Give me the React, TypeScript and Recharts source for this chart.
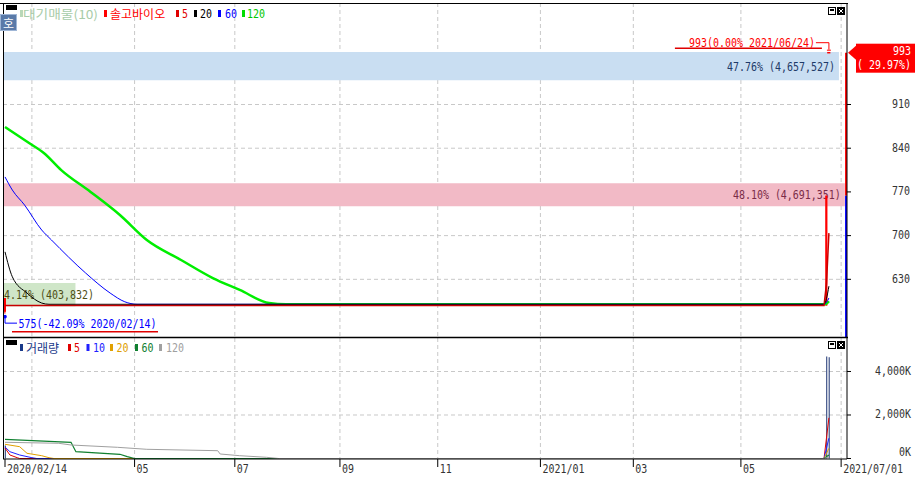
import React from "react";
import {
  ComposedChart,
  Line,
  Bar,
  Scatter,
  XAxis,
  YAxis,
  CartesianGrid,
  ReferenceArea,
  ReferenceLine,
} from "recharts";

const MONO = "'DejaVu Sans Mono', 'Liberation Mono', monospace";
const KR = "'Noto Sans CJK KR', 'Noto Sans', sans-serif";

// x = trading-day index, 0 = 2020/02/14
const tickIdx = [0, 53, 94, 137, 177, 219, 257, 301, 342];
const tickLabels = ["2020/02/14", "05", "07", "09", "11", "2021/01", "03", "05", "2021/07/01"];
const gridIdx = [11, 53, 94, 137, 177, 219, 257, 301, 342];
const X_MIN = -0.82;
const X_MAX = 344.4;

const priceTicks = [630, 700, 770, 840, 910];
const volTicks = [0, 2000000, 4000000];

// candles
const candleIdx = [0, 336, 337];
const candleOpen = [578, 588, 993];
const candleHigh = [600, 764, 993];
const candleLow = [575, 588, 993];
const candleClose = [600, 764, 993];
const volume = [600000, 4691351, 4657527];

// price moving averages
const ma5Idx = [0, 335, 336, 337];
const ma5 = [588, 588, 623, 704];
const ma20Idx = [0, 3, 9, 15, 18, 335, 336, 337];
const ma20 = [674, 634, 608, 592, 590, 590, 599, 619];
const ma60Idx = [0, 3, 8, 15, 19, 33, 43, 49, 54, 335, 336, 337];
const ma60 = [794, 773, 749, 709, 693, 640, 608, 594, 590, 590, 593, 600];
const ma120Idx = [0, 10, 16, 23, 35, 47, 58, 72, 85, 96, 108, 115, 335, 336, 337];
const ma120 = [874, 848, 832, 805, 770, 733, 693, 661, 632, 613, 592, 590, 590, 591, 595];

// volume moving averages
const vol5Idx = [0, 2, 5, 6, 335, 336, 337];
const vol5 = [483000, 161000, 37000, 0, 0, 938000, 1870000];
const vol10Idx = [0, 2, 6, 11, 13, 335, 336, 337];
const vol10 = [529000, 313000, 161000, 37000, 0, 0, 469000, 935000];
const vol20Idx = [0, 6, 9, 15, 18, 20, 335, 336, 337];
const vol20 = [653000, 543000, 239000, 129000, 37000, 0, 0, 235000, 467000];
const vol60Idx = [0, 27, 29, 47, 50, 53, 335, 336, 337];
const vol60 = [883000, 745000, 313000, 193000, 83000, 0, 0, 78000, 156000];
const vol120Idx = [0, 22, 27, 46, 58, 87, 88, 96, 107, 112, 335, 336, 337];
const vol120 = [745000, 699000, 621000, 515000, 423000, 359000, 207000, 129000, 55000, 0, 0, 39000, 78000];

// waiting supply bands (대기매물)
const bandLow = [587, 747, 949];
const bandHigh = [624, 784, 994];
const bandPct = [4.14, 48.1, 47.76];
const bandVol = [403832, 4691351, 4657527];
const bandFill = ["#cfe6c8", "#f2bac6", "#c9def2"];
const bandText = ["#4e4e14", "#7a2c48", "#1e3a68"];

// annotations
const highIdx = 337;
const highPrice = 993;
const highLabel = "993(0.00% 2021/06/24)";
const lowIdx = 0;
const lowPrice = 575;
const lowLabel = "575(-42.09% 2020/02/14)";
const lastPrice = 993;
const prevClose = 764;
const lastChange = "( 29.97%)";

const PRICE_MIN = 537.6;
const PRICE_MAX = 1072.6;

const toPts = (xs: number[], ys: number[]) => xs.map((d, i) => ({ d, v: ys[i] }));

const candles = candleIdx.map((d, i) => ({
  d,
  range: [candleLow[i], candleHigh[i]],
  open: candleOpen[i],
  close: candleClose[i],
  high: candleHigh[i],
  low: candleLow[i],
  vol: volume[i],
}));

function Mono({ x, y, text, fill, anchor = "start", size = 13 }: any) {
  return (
    <text
      x={x}
      y={y}
      fill={fill}
      fontFamily={MONO}
      fontSize={size}
      textAnchor={anchor}
      dominantBaseline="central"
      textLength={text.length * 6}
      lengthAdjust="spacingAndGlyphs"
    >
      {text}
    </text>
  );
}

function Candle(props: any) {
  const { x, y, width, height, payload } = props;
  const { open, close, high, low } = payload;
  const color = close >= open ? "#ff0000" : "#0000ff";
  if (!height || high === low) {
    return <rect x={x - 0.5} y={y - 0.75} width={width + 1} height={1.5} fill={color} />;
  }
  const py = (p: number) => y + ((high - p) / (high - low)) * height;
  const top = py(Math.max(open, close));
  const bot = py(Math.min(open, close));
  return (
    <g>
      <line x1={x + width / 2} x2={x + width / 2} y1={y} y2={y + height} stroke={color} />
      <rect x={x} y={top} width={width} height={Math.max(1, bot - top)} fill={color} />
    </g>
  );
}

function Annotation(props: any) {
  const { cx, cy, payload } = props;
  if (cx == null || cy == null) return null;
  if (payload.kind === "hi") {
    return (
      <g>
        <line x1={cx - 154} x2={cx - 7} y1={cy - 4.5} y2={cy - 4.5} stroke="#e00000" strokeWidth={1.5} />
        <Mono x={cx - 14} y={cy - 10} text={payload.label} fill="#ff0000" anchor="end" />
        <polyline
          points={`${cx - 13},${cy - 10} ${cx},${cy - 10} ${cx},${cy - 3}`}
          fill="none"
          stroke="#ff0000"
        />
        <line x1={cx - 2} x2={cx + 2} y1={cy - 2.5} y2={cy - 2.5} stroke="#ff0000" />
      </g>
    );
  }
  return (
    <g>
      <line x1={cx + 7} x2={cx + 153} y1={cy + 18} y2={cy + 18} stroke="#e00000" strokeWidth={1.5} />
      <polyline
        points={`${cx},${cy + 3} ${cx},${cy + 9.5} ${cx + 12},${cy + 9.5}`}
        fill="none"
        stroke="#0000ff"
      />
      <circle cx={cx} cy={cy + 3} r={1.8} fill="#0000ff" />
      <Mono x={cx + 13.5} y={cy + 9.5} text={payload.label} fill="#0000ff" />
    </g>
  );
}

function PriceBox(props: any) {
  const { x, y, width } = props.viewBox;
  const r = x + width;
  return (
    <g>
      <polygon points={`${r + 1},${y} ${r + 9},${y - 7} ${r + 9},${y + 7}`} fill="#ff0000" />
      <rect x={r + 9} y={y - 9} width={915 - r - 9} height={29} fill="#ff0000" />
      <Mono x={911} y={y - 2} text={String(lastPrice)} fill="#ffffff" anchor="end" size={12} />
      <Mono x={911} y={y + 12.5} text={lastChange} fill="#ffffff" anchor="end" size={12} />
    </g>
  );
}

const bandLabel = (text: string, color: string) => (props: any) => {
  const { x, y, width, height } = props.viewBox;
  const tw = text.length * 6;
  const fits = width > tw + 10;
  return (
    <Mono
      x={fits ? x + width - 4 : x + 1}
      y={y + height / 2}
      text={text}
      fill={color}
      anchor={fits ? "end" : "start"}
    />
  );
};

const PriceTick = (p: any) => (
  <Mono x={p.x + 57} y={p.y - 1} text={String(p.payload.value)} fill="#333333" anchor="end" />
);

const VolTick = (p: any) => {
  const v = p.payload.value;
  const t = `${(v / 1000).toLocaleString("en-US")}K`;
  return <Mono x={p.x + 58} y={p.y + (v === 0 ? -6.5 : -1)} text={t} fill="#333333" anchor="end" />;
};

const DateTick = (p: any) => {
  const i = tickIdx.indexOf(p.payload.value);
  return (
    <g>
      <line x1={p.x} x2={p.x} y1={p.y} y2={p.y + 8} stroke="#000" />
      <Mono x={p.x + 2} y={p.y + 9} text={tickLabels[i] ?? ""} fill="#333333" />
    </g>
  );
};

function Icons({ x, y }: { x: number; y: number }) {
  return (
    <g>
      <rect x={x + 0.5} y={y + 0.5} width={7} height={7} fill="#fff" stroke="#000" />
      <rect x={x + 2} y={y + 2} width={4} height={2} fill="#000" />
      <rect x={x + 9} y={y} width={8} height={8} fill="#000" />
      <line x1={x + 11} y1={y + 2} x2={x + 15} y2={y + 6} stroke="#fff" />
      <line x1={x + 15} y1={y + 2} x2={x + 11} y2={y + 6} stroke="#fff" />
    </g>
  );
}

function Marker({ x, y, color }: any) {
  return <rect x={x} y={y} width={3} height={7} fill={color} />;
}

export default function App() {
  const maxPct = Math.max(...bandPct);
  return (
    <div style={{ position: "absolute", left: 0, top: 0, width: 915, height: 477, background: "#fff" }}>
      <div style={{ position: "absolute", left: 0, top: 0 }}>
        <ComposedChart width={915} height={338} data={candles} margin={{ top: 3, right: 0, left: 3, bottom: 1 }}>
          <CartesianGrid
            stroke="#c8c8c8"
            strokeDasharray="4 3"
            horizontalValues={priceTicks}
            verticalValues={gridIdx}
          />
          {bandLow.map((lo, i) => (
            <ReferenceArea
              key={i}
              x1={X_MIN}
              x2={X_MIN + (bandPct[i] / maxPct) * (X_MAX - X_MIN) * 0.9975}
              y1={lo}
              y2={bandHigh[i]}
              fill={bandFill[i]}
              fillOpacity={1}
              stroke="none"
              label={bandLabel(
                `${bandPct[i].toFixed(2)}% (${bandVol[i].toLocaleString("en-US")})`,
                bandText[i]
              )}
            />
          ))}
          <XAxis
            dataKey="d"
            type="number"
            domain={[X_MIN, X_MAX]}
            allowDataOverflow
            ticks={gridIdx}
            hide
          />
          <YAxis
            orientation="right"
            type="number"
            width={68}
            domain={[PRICE_MIN, PRICE_MAX]}
            allowDataOverflow
            ticks={priceTicks}
            axisLine={{ stroke: "#000" }}
            tickLine={{ stroke: "#000" }}
            tickSize={4}
            tick={PriceTick}
          />
          <Line type="monotone" data={toPts(ma120Idx, ma120)} dataKey="v" stroke="#00ee00" strokeWidth={2.5} dot={false} isAnimationActive={false} />
          <Line type="monotone" data={toPts(ma60Idx, ma60)} dataKey="v" stroke="#0000ff" strokeWidth={1} dot={false} isAnimationActive={false} />
          <Line type="monotone" data={toPts(ma20Idx, ma20)} dataKey="v" stroke="#000000" strokeWidth={1} dot={false} isAnimationActive={false} />
          <Line data={toPts(ma5Idx, ma5)} dataKey="v" stroke="#c80000" strokeWidth={1.5} dot={false} isAnimationActive={false} />
          <Bar dataKey="range" barSize={4} shape={Candle} isAnimationActive={false} />
          <ReferenceArea x1={343.6} x2={X_MAX} y1={prevClose} y2={lastPrice} fill="#ff0000" fillOpacity={1} stroke="none" />
          <ReferenceArea x1={343.6} x2={X_MAX} y1={PRICE_MIN} y2={prevClose} fill="#0000ff" fillOpacity={1} stroke="none" />
          <ReferenceLine y={lastPrice} stroke="transparent" label={(p: any) => <PriceBox viewBox={p.viewBox} />} />
          <Scatter
            data={[
              { d: highIdx, v: highPrice, kind: "hi", label: highLabel },
              { d: lowIdx, v: lowPrice, kind: "lo", label: lowLabel },
            ]}
            dataKey="v"
            shape={Annotation}
            isAnimationActive={false}
          />
        </ComposedChart>
      </div>
      <div style={{ position: "absolute", left: 0, top: 338 }}>
        <ComposedChart width={915} height={139} data={candles} margin={{ top: 0, right: 0, left: 3, bottom: 0 }}>
          <CartesianGrid
            stroke="#c8c8c8"
            strokeDasharray="4 3"
            horizontalValues={[2000000, 4000000]}
            verticalValues={gridIdx}
          />
          <XAxis
            dataKey="d"
            type="number"
            domain={[X_MIN, X_MAX]}
            allowDataOverflow
            ticks={tickIdx}
            height={18}
            axisLine={{ stroke: "#000" }}
            tickLine={false}
            tickSize={0}
            tickMargin={0}
            tick={DateTick}
            interval={0}
          />
          <YAxis
            orientation="right"
            type="number"
            width={68}
            domain={[-23000, 5540000]}
            allowDataOverflow
            ticks={volTicks}
            axisLine={{ stroke: "#000" }}
            tickLine={{ stroke: "#000" }}
            tickSize={4}
            tick={VolTick}
          />
          <Line data={toPts(vol5Idx, vol5)} dataKey="v" stroke="#e00000" strokeWidth={1} dot={false} isAnimationActive={false} />
          <Line data={toPts(vol10Idx, vol10)} dataKey="v" stroke="#2020ff" strokeWidth={1} dot={false} isAnimationActive={false} />
          <Line data={toPts(vol20Idx, vol20)} dataKey="v" stroke="#e0a000" strokeWidth={1} dot={false} isAnimationActive={false} />
          <Line data={toPts(vol60Idx, vol60)} dataKey="v" stroke="#108030" strokeWidth={1.2} dot={false} isAnimationActive={false} />
          <Line data={toPts(vol120Idx, vol120)} dataKey="v" stroke="#a0a0a0" strokeWidth={1} dot={false} isAnimationActive={false} />
          <Bar dataKey="vol" barSize={1} fill="#183070" isAnimationActive={false} />
        </ComposedChart>
      </div>
      <svg
        width={915}
        height={477}
        style={{ position: "absolute", left: 0, top: 0, pointerEvents: "none" }}
      >
        <line x1={0} x2={848} y1={3.5} y2={3.5} stroke="#000" />
        <line x1={3.5} x2={3.5} y1={3} y2={459} stroke="#000" />
        <line x1={3} x2={848} y1={337.5} y2={337.5} stroke="#000" strokeWidth={1.5} />
        <rect x={6} y={5} width={11} height={5} fill="#000" />
        <rect x={6} y={340} width={11} height={5} fill="#000" />
        <rect x={0.5} y={14.5} width={16} height={16} fill="#5a7aa8" stroke="#9fb6d6" />
        <text x={8.5} y={22.5} fill="#fff" fontFamily={KR} fontSize={12} textAnchor="middle" dominantBaseline="central">
          호
        </text>
        <Icons x={828} y={7} />
        <Icons x={828} y={341} />

        {/* price legend */}
        <Marker x={20} y={10} color="#b8d8b8" />
        <text x={23} y={13.5} fill="#a8cca8" fontFamily={KR} fontSize={12} dominantBaseline="central" textLength={75} lengthAdjust="spacingAndGlyphs">
          대기매물(10)
        </text>
        <Marker x={104} y={10} color="#ff0000" />
        <text x={110} y={13.5} fill="#ff0000" fontFamily={KR} fontSize={12} dominantBaseline="central">
          솔고바이오
        </text>
        <Marker x={176} y={10} color="#e00000" />
        <Mono x={182} y={13.5} text="5" fill="#e00000" />
        <Marker x={194} y={10} color="#000000" />
        <Mono x={200} y={13.5} text="20" fill="#000000" />
        <Marker x={218} y={10} color="#0000ff" />
        <Mono x={225} y={13.5} text="60" fill="#0000ff" />
        <Marker x={242} y={10} color="#00dd00" />
        <Mono x={247} y={13.5} text="120" fill="#00c800" />

        {/* volume legend */}
        <Marker x={20} y={344} color="#1a3a8a" />
        <text x={26} y={347.5} fill="#1a3a8a" fontFamily={KR} fontSize={12} dominantBaseline="central">
          거래량
        </text>
        <Marker x={68} y={344} color="#e00000" />
        <Mono x={74} y={347.5} text="5" fill="#e00000" />
        <Marker x={86.5} y={344} color="#2020ff" />
        <Mono x={93} y={347.5} text="10" fill="#2020ff" />
        <Marker x={110} y={344} color="#e0a000" />
        <Mono x={116.5} y={347.5} text="20" fill="#e0a000" />
        <Marker x={135} y={344} color="#108030" />
        <Mono x={141.5} y={347.5} text="60" fill="#108030" />
        <Marker x={159} y={344} color="#a0a0a0" />
        <Mono x={166} y={347.5} text="120" fill="#a0a0a0" />
      </svg>
    </div>
  );
}
